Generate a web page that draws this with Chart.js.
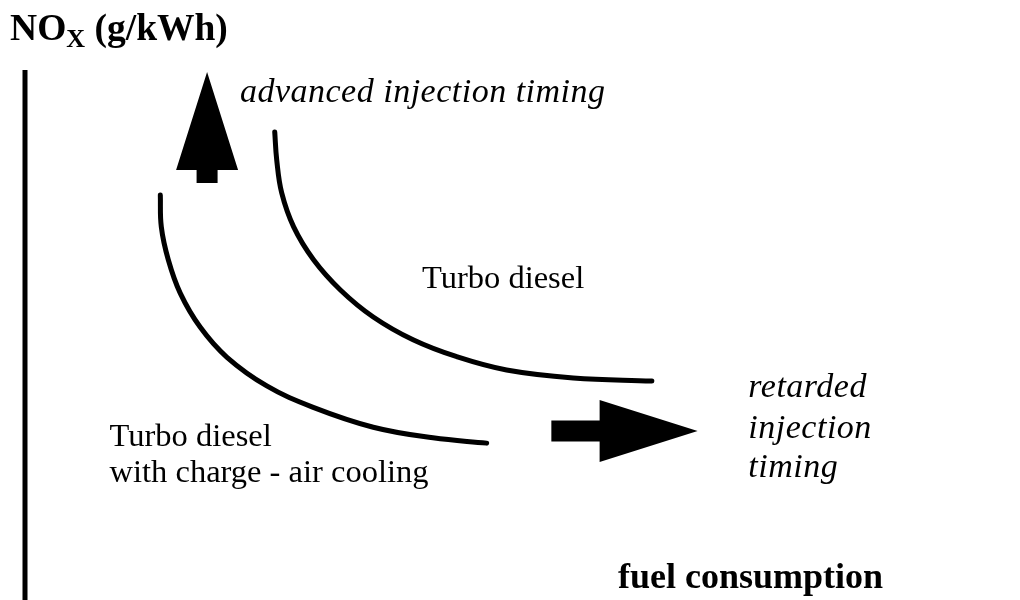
<!DOCTYPE html>
<html>
<head>
<meta charset="utf-8">
<script src="https://cdn.jsdelivr.net/npm/chart.js@4.4.1/dist/chart.umd.min.js"></script>
<style>
  html, body { margin: 0; padding: 0; background: #fff; }
</style>
</head>
<body>
<canvas id="noxChart" width="1020" height="600"></canvas>
<script>
// fuel consumption (x) vs NOx (y), both in relative units 0-100
const turboX = [25.1, 25.3, 25.8, 27.0, 29.0, 31.7, 35.0, 39.0, 43.4, 48.4, 55.1, 63.0];
const turboY = [88.3, 83.0, 76.8, 70.4, 64.2, 58.5, 53.4, 49.1, 45.9, 43.4, 41.9, 41.3];

const chargeAirX = [13.6, 13.7, 14.4, 15.6, 17.6, 20.3, 24.3, 28.9, 35.0, 41.0, 46.4];
const chargeAirY = [76.4, 70.4, 64.2, 57.9, 51.5, 45.8, 40.4, 36.4, 32.6, 30.6, 29.6];

// direction arrows: tail -> tip, same units
const arrowTails = [[18.3, 78.7], [52.9, 31.9]];
const arrowTips = [[18.3, 99.6], [67.6, 31.9]];

const serif = '"Liberation Serif", "Times New Roman", serif';

const annotations = [
  { text: 'advanced injection timing', x: 21.6, y: 94.0, font: 'italic 34px ' + serif, spacing: '0.5px' },
  { text: 'Turbo diesel', x: 39.9, y: 58.9, font: '32.5px ' + serif },
  { text: 'Turbo diesel', x: 8.5, y: 29.0, font: '32.5px ' + serif },
  { text: 'with charge - air cooling', x: 8.5, y: 22.2, font: '32.5px ' + serif },
  { text: 'retarded', x: 72.7, y: 38.3, font: 'italic 34px ' + serif, spacing: '0.5px' },
  { text: 'injection', x: 72.7, y: 30.6, font: 'italic 34px ' + serif, spacing: '0.5px' },
  { text: 'timing', x: 72.7, y: 23.2, font: 'italic 34px ' + serif, spacing: '0.5px' },
  { text: 'fuel consumption', x: 59.6, y: 2.3, font: 'bold 36px ' + serif }
];

const toPoints = (xs, ys) => xs.map((x, i) => ({ x: x, y: ys[i] }));

const sketchPlugin = {
  id: 'sketch',
  afterDatasetsDraw(chart) {
    const ctx = chart.ctx;
    const xs = chart.scales.x;
    const ys = chart.scales.y;
    const area = chart.chartArea;

    ctx.save();

    // NOx axis
    ctx.strokeStyle = '#000';
    ctx.lineWidth = 5;
    ctx.beginPath();
    ctx.moveTo(xs.getPixelForValue(0), area.top);
    ctx.lineTo(xs.getPixelForValue(0), area.bottom);
    ctx.stroke();

    // arrows
    ctx.fillStyle = '#000';
    arrowTails.forEach((tail, i) => {
      const tip = arrowTips[i];
      const x0 = xs.getPixelForValue(tail[0]), y0 = ys.getPixelForValue(tail[1]);
      const x1 = xs.getPixelForValue(tip[0]), y1 = ys.getPixelForValue(tip[1]);
      const len = Math.hypot(x1 - x0, y1 - y0);
      const ux = (x1 - x0) / len, uy = (y1 - y0) / len;
      const nx = -uy, ny = ux;
      const headLen = 98, headW = 31, shaftW = 10.5;
      const bx = x1 - ux * headLen, by = y1 - uy * headLen;
      ctx.beginPath();
      ctx.moveTo(x0 + nx * shaftW, y0 + ny * shaftW);
      ctx.lineTo(bx + nx * shaftW, by + ny * shaftW);
      ctx.lineTo(bx + nx * headW, by + ny * headW);
      ctx.lineTo(x1, y1);
      ctx.lineTo(bx - nx * headW, by - ny * headW);
      ctx.lineTo(bx - nx * shaftW, by - ny * shaftW);
      ctx.lineTo(x0 - nx * shaftW, y0 - ny * shaftW);
      ctx.closePath();
      ctx.fill();
    });

    // text labels
    ctx.textBaseline = 'alphabetic';
    ctx.textAlign = 'left';
    annotations.forEach(a => {
      ctx.font = a.font;
      ctx.letterSpacing = a.spacing || '0px';
      ctx.fillText(a.text, xs.getPixelForValue(a.x), ys.getPixelForValue(a.y));
    });
    ctx.letterSpacing = '0px';

    // y axis title with subscript
    let tx = xs.getPixelForValue(-1.5);
    const ty = ys.getPixelForValue(105.7);
    ctx.font = 'bold 37.5px ' + serif;
    ctx.fillText('NO', tx, ty);
    tx += ctx.measureText('NO').width;
    ctx.font = 'bold 26px ' + serif;
    ctx.fillText('X', tx, ty + 7);
    tx += ctx.measureText('X').width;
    ctx.font = 'bold 37.5px ' + serif;
    ctx.fillText(' (g/kWh)', tx, ty);

    ctx.restore();
  }
};

new Chart(document.getElementById('noxChart'), {
  type: 'scatter',
  data: {
    datasets: [
      {
        label: 'Turbo diesel',
        data: toPoints(turboX, turboY),
        showLine: true,
        borderColor: '#000',
        borderWidth: 5,
        borderCapStyle: 'round',
        tension: 0.4,
        pointRadius: 0
      },
      {
        label: 'Turbo diesel with charge - air cooling',
        data: toPoints(chargeAirX, chargeAirY),
        showLine: true,
        borderColor: '#000',
        borderWidth: 5,
        borderCapStyle: 'round',
        tension: 0.4,
        pointRadius: 0
      }
    ]
  },
  options: {
    responsive: false,
    animation: false,
    layout: { padding: { left: 25, top: 70, right: 0, bottom: 0 } },
    scales: {
      x: { type: 'linear', min: 0, max: 100, display: false },
      y: { type: 'linear', min: 0, max: 100, display: false }
    },
    plugins: {
      legend: { display: false },
      tooltip: { enabled: false }
    }
  },
  plugins: [sketchPlugin]
});
</script>
</body>
</html>
